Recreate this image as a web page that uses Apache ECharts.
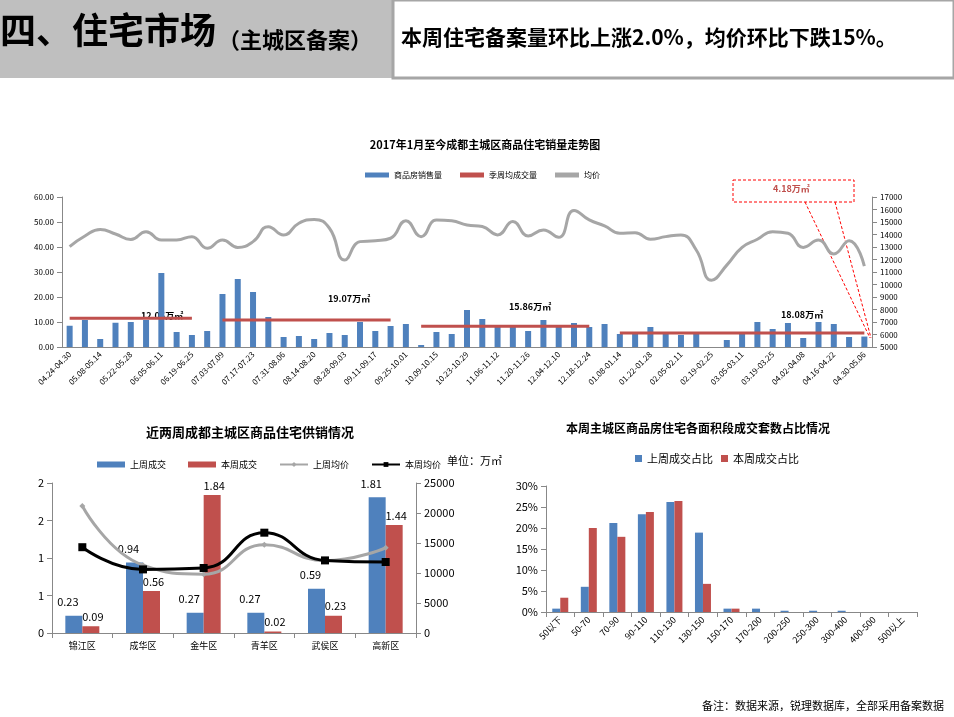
<!DOCTYPE html>
<html>
<head>
<meta charset="utf-8">
<script src="https://cdn.jsdelivr.net/npm/echarts@6/dist/echarts.min.js"></script>
<style>
  html, body { margin:0; padding:0; background:#fff; }
  #main { width:954px; height:717px; }
</style>
</head>
<body>
<div id="main"></div>
<script>
var FONT = '"Noto Sans CJK SC", sans-serif';

// top chart: weekly sales (万㎡) and average price
var weeks = ["04.24-04.30","05.01-05.07","05.08-05.14","05.15-05.21","05.22-05.28","05.29-06.04","06.05-06.11","06.12-06.18","06.19-06.25","06.26-07.02",
  "07.03-07.09","07.10-07.16","07.17-07.23","07.24-07.30","07.31-08.06","08.07-08.13","08.14-08.20","08.21-08.27","08.28-09.03","09.04-09.10",
  "09.11-09.17","09.18-09.24","09.25-10.01","10.02-10.08","10.09-10.15","10.16-10.22","10.23-10.29","10.30-11.05","11.06-11.12","11.13-11.19",
  "11.20-11.26","11.27-12.03","12.04-12.10","12.11-12.17","12.18-12.24","12.25-01.07","01.08-01.14","01.15-01.21","01.22-01.28","01.29-02.04",
  "02.05-02.11","02.12-02.18","02.19-02.25","02.26-03.04","03.05-03.11","03.12-03.18","03.19-03.25","03.26-04.01","04.02-04.08","04.09-04.15",
  "04.16-04.22","04.23-04.29","04.30-05.06"];
var weeklySales = [8.5,10.8,3.2,9.7,10,10.8,29.6,6,4.8,6.4,
  21.2,27.2,22,12,4,4.4,3.2,5.6,4.8,10,
  6.4,8.4,9.2,0.8,6,5.2,14.8,11.2,8.1,8.1,
  6.4,10.8,8.1,9.6,8,9.2,5.2,5.5,8,5.5,
  4.8,5.6,0,2.8,5.5,10,7.2,9.6,3.6,10,
  9.2,4,4.18];
var weeklyPrice = [13030,13880,14400,14040,13600,14230,13560,13560,13830,12900,
  13560,12970,13430,14630,13960,14900,15200,14500,11960,13430,
  13500,13700,15100,13830,15160,15100,14760,14640,13970,15040,
  13890,14370,13780,15930,15170,14690,14100,14150,13620,13830,
  13970,12760,10340,11550,12970,13620,14230,14100,12970,13560,
  12440,13510,11470];
// quarterly weekly averages: [start index, end index, value]
var quarterAvg = [[0,8,11.5],[10,21,10.8],[23,34,8.3],[36,52,5.6]];

// bottom left: districts
var districts = ["锦江区","成华区","金牛区","青羊区","武侯区","高新区"];
var lastWeekDeal = [0.23,0.94,0.27,0.27,0.59,1.81];
var thisWeekDeal = [0.09,0.56,1.84,0.02,0.23,1.44];
var lastWeekPrice = [21170,11300,9800,14700,12050,14200];
var thisWeekPrice = [14300,10600,10830,16720,12100,11830];

// bottom right: area segments
var areaBands = ["50以下","50-70","70-90","90-110","110-130","130-150","150-170","170-200","200-250","250-300","300-400","400-500","500以上"];
var lastWeekShare = [0.8,6,21.2,23.3,26.2,18.9,0.8,0.8,0.3,0.3,0.3,0,0];
var thisWeekShare = [3.4,20,17.9,23.8,26.4,6.7,0.8,0,0,0,0,0,0];

// one line series per quarter so the segments stay apart
var quarterSeries = quarterAvg.map(function(q){
  return {
    name:'季周均成交量', type:'line', xAxisIndex:0, yAxisIndex:0,
    data: weeks.map(function(w, i){ return (i >= q[0] && i <= q[1]) ? q[2] : null; }),
    symbol:'none', lineStyle:{color:'#c0504d', width:3}, itemStyle:{color:'#c0504d'}, z:5
  };
});

var plain = function(v){ return String(v); };
var axisLine = {show:true, lineStyle:{color:'#888'}};
var chart = echarts.init(document.getElementById('main'));
var option = {
  animation:false,
  textStyle:{fontFamily:FONT},
  title:[
    {text:'2017年1月至今成都主城区商品住宅销量走势图', left:480, top:134, textAlign:'center',
      textStyle:{fontSize:11, fontWeight:'bold', color:'#000'}},
    {text:'近两周成都主城区商品住宅供销情况', left:245, top:421, textAlign:'center',
      textStyle:{fontSize:13, fontWeight:'bold', color:'#000'}},
    {text:'本周主城区商品房住宅各面积段成交套数占比情况', left:693, top:417, textAlign:'center',
      textStyle:{fontSize:12, fontWeight:'bold', color:'#000'}}
  ],
  legend:[
    {top:166, left:360, itemGap:18, itemWidth:24, itemHeight:5, textStyle:{fontSize:8, color:'#000'},
      data:[{name:'商品房销售量', icon:'rect'},{name:'季周均成交量', icon:'rect'},{name:'均价', icon:'rect'}]},
    {top:455, left:92, itemGap:22, itemWidth:28, itemHeight:6, textStyle:{fontSize:9, color:'#000'},
      data:[{name:'上周成交', icon:'rect'},{name:'本周成交', icon:'rect'},{name:'上周均价'},{name:'本周均价'}]},
    {top:448, left:630, itemGap:8, itemWidth:7, itemHeight:7, textStyle:{fontSize:11, color:'#000'},
      data:[{name:'上周成交占比', icon:'rect'},{name:'本周成交占比', icon:'rect'}]}
  ],
  grid:[
    {left:62, right:82, top:197, bottom:370},
    {left:52, right:538, top:483, bottom:84},
    {left:546, right:37, top:486, bottom:105}
  ],
  xAxis:[
    {type:'category', gridIndex:0, data:weeks, axisLine:axisLine, axisTick:{show:false},
      axisLabel:{interval:1, rotate:45, fontSize:8, color:'#000', margin:6}},
    {type:'category', gridIndex:1, data:districts, axisLine:axisLine, axisTick:{show:true},
      axisLabel:{fontSize:9, color:'#000', margin:8}},
    {type:'category', gridIndex:2, data:areaBands, axisLine:axisLine, axisTick:{show:true},
      axisLabel:{interval:0, rotate:45, fontSize:9, color:'#000', margin:6}}
  ],
  yAxis:[
    {type:'value', gridIndex:0, min:0, max:60, interval:10, splitLine:{show:false}, axisLine:axisLine,
      axisTick:{show:true}, axisLabel:{fontSize:8, color:'#000', formatter:function(v){ return v.toFixed(2); }}},
    {type:'value', gridIndex:0, min:5000, max:17000, interval:1000, position:'right', splitLine:{show:false},
      axisLine:axisLine, axisTick:{show:true}, axisLabel:{fontSize:8, color:'#000', formatter:plain}},
    {type:'value', gridIndex:1, min:0, max:2, interval:0.5, splitLine:{show:false}, axisLine:axisLine,
      axisTick:{show:true}, axisLabel:{fontSize:11, color:'#000', formatter:function(v){ return Math.round(v); }}},
    {type:'value', gridIndex:1, min:0, max:25000, interval:5000, position:'right', splitLine:{show:false},
      axisLine:axisLine, axisTick:{show:true}, axisLabel:{fontSize:11, color:'#000', formatter:plain}},
    {type:'value', gridIndex:2, min:0, max:30, interval:5, splitLine:{show:false}, axisLine:axisLine,
      axisTick:{show:true}, axisLabel:{fontSize:11, color:'#000', formatter:'{value}%'}}
  ],
  series:[
    {name:'商品房销售量', type:'bar', xAxisIndex:0, yAxisIndex:0, data:weeklySales, barWidth:6,
      itemStyle:{color:'#4f81bd'}},
    {name:'均价', type:'line', xAxisIndex:0, yAxisIndex:1, data:weeklyPrice, smooth:0.5, symbol:'none',
      lineStyle:{color:'#a6a6a6', width:3}, itemStyle:{color:'#a6a6a6'}}
  ].concat(quarterSeries).concat([
    {name:'上周成交', type:'bar', xAxisIndex:1, yAxisIndex:2, data:lastWeekDeal, barWidth:17, barGap:'0%',
      itemStyle:{color:'#4f81bd'}, label:{show:true, position:'top', distance:8, offset:[-6,0], fontSize:11, color:'#000'}},
    {name:'本周成交', type:'bar', xAxisIndex:1, yAxisIndex:2, data:thisWeekDeal, barWidth:17,
      itemStyle:{color:'#c0504d'}, label:{show:true, position:'top', distance:4, offset:[2,0], fontSize:11, color:'#000'}},
    {name:'上周均价', type:'line', xAxisIndex:1, yAxisIndex:3, data:lastWeekPrice, smooth:0.5, symbol:'diamond', symbolSize:6,
      lineStyle:{color:'#a6a6a6', width:3}, itemStyle:{color:'#a6a6a6'}},
    {name:'本周均价', type:'line', xAxisIndex:1, yAxisIndex:3, data:thisWeekPrice, smooth:0.5, symbol:'rect', symbolSize:8,
      lineStyle:{color:'#000', width:3}, itemStyle:{color:'#000'}},
    {name:'上周成交占比', type:'bar', xAxisIndex:2, yAxisIndex:4, data:lastWeekShare, barWidth:8, barGap:'0%',
      itemStyle:{color:'#4f81bd'}},
    {name:'本周成交占比', type:'bar', xAxisIndex:2, yAxisIndex:4, data:thisWeekShare, barWidth:8,
      itemStyle:{color:'#c0504d'}}
  ]),
  graphic:[
    {type:'rect', shape:{x:0, y:0, width:392, height:78}, style:{fill:'#bfbfbf'}},
    {type:'rect', shape:{x:393, y:0, width:561, height:78}, style:{fill:'#fff', stroke:'#a6a6a6', lineWidth:3}},
    {type:'text', left:0, top:12, style:{text:'四、住宅市场', font:'bold 36px ' + FONT, fill:'#000'}},
    {type:'text', left:218, top:29, style:{text:'（主城区备案）', font:'bold 22px ' + FONT, fill:'#000'}},
    {type:'text', left:401, top:27, style:{text:'本周住宅备案量环比上涨2.0%，均价环比下跌15%。', font:'bold 21px ' + FONT, fill:'#000'}},
    {type:'text', left:141, top:311, style:{text:'12.06万㎡', font:'bold 9px ' + FONT, fill:'#000'}},
    {type:'text', left:328, top:294, style:{text:'19.07万㎡', font:'bold 9px ' + FONT, fill:'#000'}},
    {type:'text', left:509, top:302, style:{text:'15.86万㎡', font:'bold 9px ' + FONT, fill:'#000'}},
    {type:'text', left:781, top:310, style:{text:'18.08万㎡', font:'bold 9px ' + FONT, fill:'#000'}},
    {type:'rect', shape:{x:733, y:180, width:121, height:22}, style:{fill:'none', stroke:'#ff0000', lineWidth:1, lineDash:[3,2]}},
    {type:'text', left:773, top:184, style:{text:'4.18万㎡', font:'bold 9px ' + FONT, fill:'#c0504d'}},
    {type:'line', shape:{x1:805, y1:202, x2:870, y2:338}, style:{stroke:'#ff0000', lineWidth:1, lineDash:[3,2]}},
    {type:'line', shape:{x1:835, y1:202, x2:871, y2:338}, style:{stroke:'#ff0000', lineWidth:1, lineDash:[3,2]}},
    {type:'text', left:447, top:455, style:{text:'单位：万㎡', font:'11px ' + FONT, fill:'#000'}},
    {type:'text', right:10, top:700, style:{text:'备注：数据来源，锐理数据库，全部采用备案数据', font:'11px ' + FONT, fill:'#000'}}
  ]
};
chart.setOption(option);
</script>
</body>
</html>
